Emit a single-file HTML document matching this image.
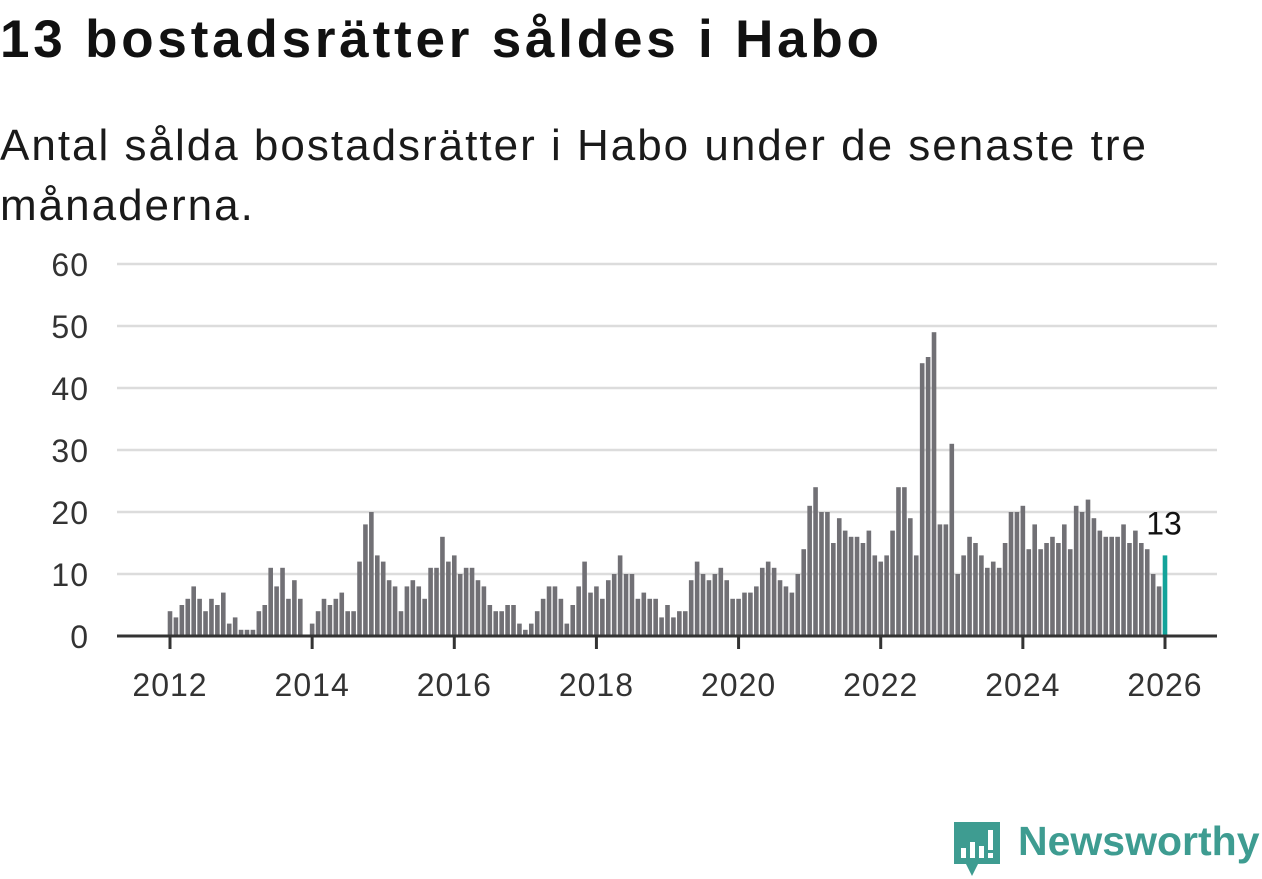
<!DOCTYPE html>
<html><head><meta charset="utf-8">
<style>
body{margin:0;background:#fff;width:1262px;height:879px;overflow:hidden;font-family:"Liberation Sans",sans-serif;}
#title{position:absolute;left:0;top:9px;font-size:53px;letter-spacing:3.8px;font-weight:bold;color:#111;margin:0}
#sub{position:absolute;left:0;top:116px;font-size:44px;letter-spacing:2px;line-height:60px;color:#1a1a1a;width:1200px}
svg{position:absolute;left:0;top:0}
</style></head><body>
<h1 id="title">13 bostadsrätter såldes i Habo</h1>
<div id="sub">Antal sålda bostadsrätter i Habo under de senaste tre månaderna.</div>
<svg id="chart" width="1262" height="879"></svg>
<script>
const startYear = 2012;
const values2012 = [4,3,5,6,8,6,4,6,5,7,2,3];
const values2013 = [1,1,1,4,5,11,8,11,6,9,6,0];
const values2014 = [2,4,6,5,6,7,4,4,12,18,20,13];
const values2015 = [12,9,8,4,8,9,8,6,11,11,16,12];
const values2016 = [13,10,11,11,9,8,5,4,4,5,5,2];
const values2017 = [1,2,4,6,8,8,6,2,5,8,12,7];
const values2018 = [8,6,9,10,13,10,10,6,7,6,6,3];
const values2019 = [5,3,4,4,9,12,10,9,10,11,9,6];
const values2020 = [6,7,7,8,11,12,11,9,8,7,10,14];
const values2021 = [21,24,20,20,15,19,17,16,16,15,17,13];
const values2022 = [12,13,17,24,24,19,13,44,45,49,18,18];
const values2023 = [31,10,13,16,15,13,11,12,11,15,20,20];
const values2024 = [21,14,18,14,15,16,15,18,14,21,20,22];
const values2025 = [19,17,16,16,16,18,15,17,15,14,10,8];
const values2026 = [13];
const yTicks = [0,10,20,30,40,50,60];
const xTickLabels = ["2012","2014","2016","2018","2020","2022","2024","2026"];

const values = [].concat(values2012,values2013,values2014,values2015,values2016,values2017,values2018,values2019,values2020,values2021,values2022,values2023,values2024,values2025,values2026);
const NS="http://www.w3.org/2000/svg";
const svg=document.getElementById('chart');
const x0=170, x1=1165, y0=636, y60=264;
const nMonths=(2026-startYear)*12;
const xs=i=>x0+(x1-x0)*i/nMonths;
const ys=v=>y0-(y0-y60)*v/60;
function mk(t,a){const e=document.createElementNS(NS,t);for(const k in a)e.setAttribute(k,a[k]);svg.appendChild(e);return e;}
yTicks.forEach(v=>{
  if(v>0){const g=mk('line',{x1:117,x2:1217,y1:ys(v),y2:ys(v),stroke:'#dcdcdc','stroke-width':2.5});
  
  }
  const t=mk('text',{x:89,y:ys(v)+12,'text-anchor':'end','font-size':32,'letter-spacing':1,fill:'#333','font-family':'Liberation Sans, sans-serif'});
  t.textContent=v;
  
  
});
values.forEach((v,i)=>{
  const last=i===values.length-1;
  const r=mk('rect',{x:xs(i)-2.3,y:ys(v),width:4.6,height:y0-ys(v),fill:last?'#13a39a':'#717075'});
  
  
});
const ax=mk('line',{x1:117,x2:1217,y1:y0,y2:y0,stroke:'#333','stroke-width':3});


xTickLabels.forEach(l=>{
  const xx=xs((+l-startYear)*12);
  const tk=mk('line',{x1:xx,x2:xx,y1:y0,y2:y0+13,stroke:'#333','stroke-width':3});
  
  
  const t=mk('text',{x:xx,y:696,'text-anchor':'middle','font-size':32,'letter-spacing':1,fill:'#333','font-family':'Liberation Sans, sans-serif'});
  t.textContent=l;
  
  
});
const lv=values[values.length-1];
const lt=mk('text',{x:xs(values.length-1)-1,y:ys(lv)-21,'text-anchor':'middle','font-size':32,fill:'#111','font-family':'Liberation Sans, sans-serif'});
lt.textContent=lv;


</script>
<svg width="60" height="60" style="left:950px;top:818px">
<path d="M4 4 H50 V46 H28 L22 58 L16 46 H4 Z" fill="#3e9c91"/>
<rect x="11" y="30" width="5" height="10" fill="#fff"/><rect x="20" y="24" width="5" height="16" fill="#fff"/><rect x="29" y="28" width="5" height="12" fill="#fff"/><rect x="38" y="12" width="5" height="20" fill="#fff"/><rect x="38" y="35" width="5" height="5" fill="#fff"/>
</svg>
<div style="position:absolute;left:1018px;top:818px;font-size:41px;font-weight:bold;color:#3e9c91">Newsworthy</div>
</body></html>
